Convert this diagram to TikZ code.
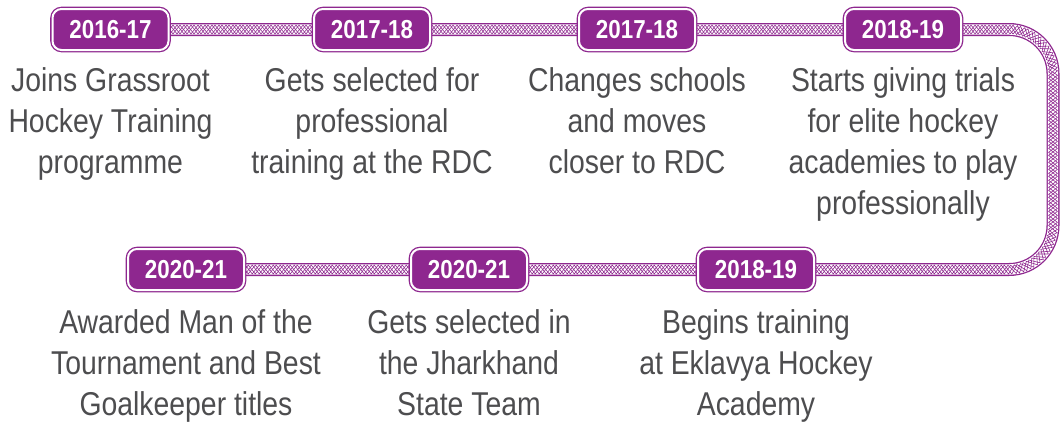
\documentclass[tikz,border=0pt]{standalone}
\usepackage{fontspec}
\setmainfont{Liberation Sans}[FakeStretch=0.86]
\usetikzlibrary{decorations,decorations.pathmorphing,positioning}

\definecolor{hockeyPurple}{RGB}{142,39,143}
\definecolor{storyGray}{RGB}{77,77,79}

\tikzset{
  yearbadge/.style={rectangle, rounded corners=9pt, fill=hockeyPurple, draw=hockeyPurple, double=white, double distance=2pt, line width=1.3pt, minimum width=116pt, minimum height=41pt, inner sep=0pt, text=white, font=\bfseries\fontsize{26}{26}\selectfont},
  story/.style={anchor=north, inner sep=0pt, align=center, text=storyGray, font=\fontsize{33}{41}\selectfont},
  weave/.style={decorate, sharp corners, draw=hockeyPurple, line width=0.6pt, decoration={zigzag, segment length=14pt, amplitude=4.4pt, #1}},
  rope/.style={line width=13pt, draw=hockeyPurple,
    postaction={draw=white, line width=10.4pt},
    postaction={weave={pre length=0pt}},
    postaction={weave={pre length=3pt}},
    postaction={weave={mirror, pre length=0pt}},
    postaction={weave={mirror, pre length=3pt}}}
}

\begin{document}
\begin{tikzpicture}[x=1pt, y=1pt]

\useasboundingbox (0,0) rectangle (1061,-423);

% Rope
\coordinate (turn) at (1053,-269.5);
\draw [rope, rounded corners=44pt] (110.5,-29.5) -| (turn) -- (186,-269.5);

% Years
\draw (110.5,-29.5) node [yearbadge] (grassrootYear) {2016-17};
\draw (372,-29.5) node [yearbadge] (selectedYear) {2017-18};
\draw (637,-29.5) node [yearbadge] (schoolsYear) {2017-18};
\draw (903,-29.5) node [yearbadge] (trialsYear) {2018-19};
\draw (186,-269.5) node [yearbadge] (awardedYear) {2020-21};
\draw (469,-269.5) node [yearbadge] (stateYear) {2020-21};
\draw (756,-269.5) node [yearbadge] (eklavyaYear) {2018-19};

% Stories
\draw (110.5,-67) node [story] (grassroot) {Joins Grassroot\\Hockey Training\\programme};
\draw (372,-67) node [story] (selected) {Gets selected for\\professional\\training at the RDC};
\draw (637,-67) node [story] (schools) {Changes schools\\and moves\\closer to RDC};
\draw (903,-67) node [story] (trials) {Starts giving trials\\for elite hockey\\academies to play\\professionally};
\draw (186,-309) node [story] (awarded) {Awarded Man of the\\Tournament and Best\\Goalkeeper titles};
\draw (469,-309) node [story] (state) {Gets selected in\\the Jharkhand\\State Team};
\draw (756,-309) node [story] (eklavya) {Begins training\\at Eklavya Hockey\\Academy};
\end{tikzpicture}
\end{document}
